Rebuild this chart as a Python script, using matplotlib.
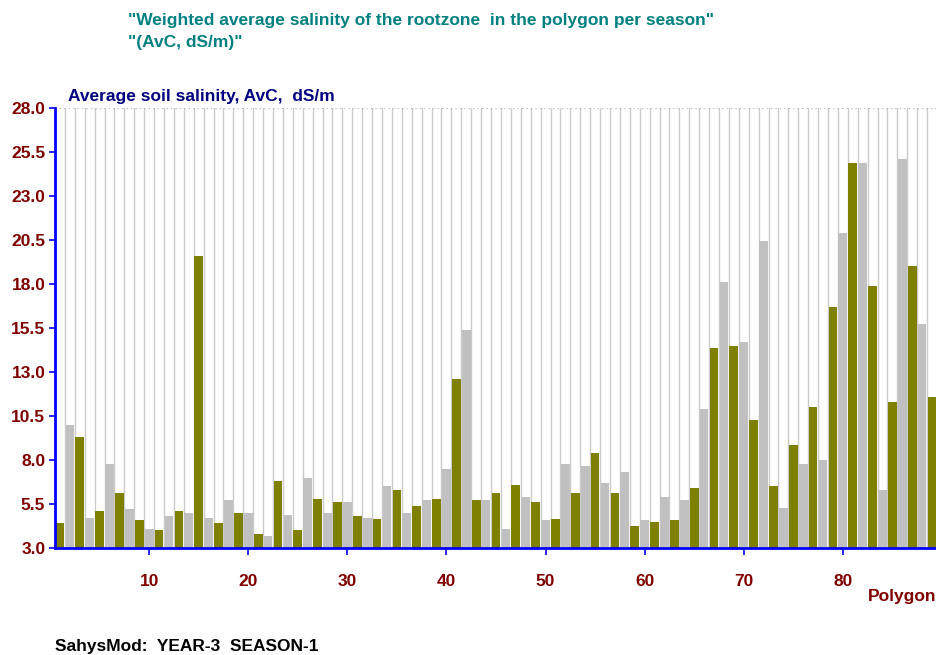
import matplotlib.pyplot as plt
import numpy as np

plt.rcParams['font.family'] = ['Liberation Sans', 'DejaVu Sans']

# average soil salinity per polygon (dS/m), polygons 1..89
salinity = [
    4.4, 10.0, 9.3, 4.7, 5.1, 7.8, 6.1, 5.2, 4.6, 4.1,
    4.0, 4.8, 5.1, 5.0, 19.6, 4.7, 4.4, 5.7, 5.0, 5.0,
    3.8, 3.7, 6.8, 4.9, 4.0, 7.0, 5.8, 5.0, 5.6, 5.6,
    4.8, 4.7, 4.65, 6.5, 6.3, 5.0, 5.4, 5.7, 5.8, 7.5,
    12.6, 15.4, 5.7, 5.7, 6.1, 4.1, 6.6, 5.9, 5.6, 4.6,
    4.65, 7.75, 6.15, 7.65, 8.4, 6.7, 6.15, 7.33, 4.25, 4.6,
    4.5, 5.9, 4.6, 5.7, 6.4, 10.9, 14.35, 18.1, 14.5, 14.7,
    10.3, 20.45, 6.5, 5.25, 8.85, 7.75, 11.0, 8.0, 16.7, 20.9,
    24.9, 24.85, 17.9, 6.3, 11.3, 25.1, 19.0, 15.7, 11.6,
]
polygons = np.arange(1, len(salinity) + 1)
y_ticks = [3.0, 5.5, 8.0, 10.5, 13.0, 15.5, 18.0, 20.5, 23.0, 25.5, 28.0]
x_ticks = [10, 20, 30, 40, 50, 60, 70, 80]

OLIVE = '#808000'
SILVER = '#c0c0c0'
DARKRED = '#800000'
BLUE = '#0000ff'
FS = 12.5

fig = plt.figure(figsize=(9.37, 6.55), dpi=100)
ax = fig.add_axes([55 / 937, 107 / 655, 882 / 937, 440 / 655])

# thin grey separators between polygons
for b in np.arange(0.5, len(salinity) + 1, 1.0):
    ax.plot([b, b], [3.0, 28.0], color='#cacaca', lw=1.0, zorder=1)
ax.plot([0.5, len(salinity) + 0.5], [28.0, 28.0], color='#b0b0b0', lw=0.8,
        linestyle=(0, (1, 3)), zorder=1)

bar_colors = [OLIVE if p % 2 == 1 else SILVER for p in polygons]
ax.bar(polygons, np.array(salinity) - 3.0, bottom=3.0, width=0.88,
       color=bar_colors, linewidth=0, zorder=2)

ax.set_xlim(0.5, len(salinity) + 0.5)
ax.set_ylim(3.0, 28.0)

ax.set_yticks(y_ticks)
ax.set_yticklabels([f'{v:.1f}' for v in y_ticks], color=DARKRED,
                   fontsize=FS, fontweight='bold')
ax.set_xticks(x_ticks)
ax.set_xticklabels([str(v) for v in x_ticks], color=DARKRED,
                   fontsize=FS, fontweight='bold')

ax.tick_params(axis='y', colors=BLUE, length=4, width=1.2, pad=3,
               labelcolor=DARKRED)
ax.tick_params(axis='x', colors=BLUE, length=5, width=1.2, pad=14,
               labelcolor=DARKRED)

for s in ['top', 'right']:
    ax.spines[s].set_visible(False)
for s in ['left', 'bottom']:
    ax.spines[s].set_color(BLUE)
    ax.spines[s].set_linewidth(2)

fig.text(128 / 937, 1 - 20 / 655,
         '"Weighted average salinity of the rootzone  in the polygon per season"',
         color='#008080', fontsize=FS, fontweight='bold', va='center')
fig.text(128 / 937, 1 - 42 / 655, '"(AvC, dS/m)"',
         color='#008080', fontsize=FS, fontweight='bold', va='center')
fig.text(68 / 937, 1 - 96 / 655, 'Average soil salinity, AvC,  dS/m',
         color='#000080', fontsize=FS, fontweight='bold', va='center')
fig.text(936 / 937, 1 - 596 / 655, 'Polygon', color=DARKRED,
         fontsize=FS, fontweight='bold', va='center', ha='right')
fig.text(55 / 937, 1 - 647 / 655, 'SahysMod:  YEAR-3  SEASON-1',
         color='black', fontsize=FS, fontweight='bold', va='center')

fig.savefig('out.png', dpi=100)
